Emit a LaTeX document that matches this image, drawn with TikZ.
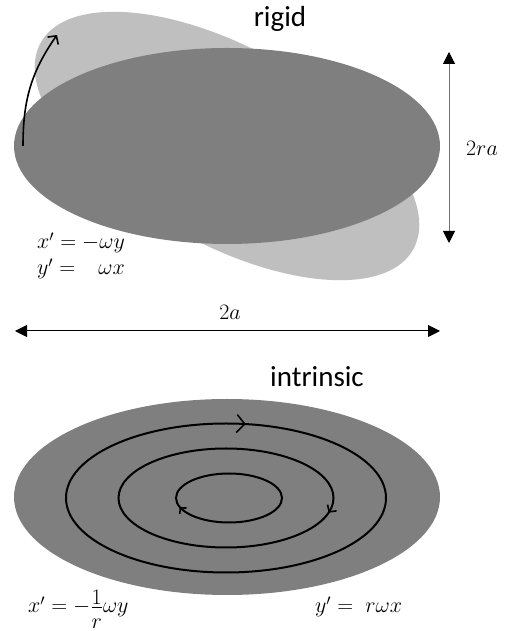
\RequirePackage{fix-cm}
\documentclass[tikz,border=0pt]{standalone}
\usepackage{amsmath}
\usepackage{fontspec}
\newfontfamily\labelfont{Carlito}
\usetikzlibrary{arrows.meta, decorations.markings}

\definecolor{diskdark}{RGB}{127,127,127}
\definecolor{disklight}{RGB}{191,191,191}

\tikzset{
  lbl/.style={font=\labelfont\fontsize{29}{33}\selectfont, inner sep=0pt},
  eq/.style={font=\fontsize{22}{26}\selectfont, inner sep=0pt},
  ring/.style={draw=black, line width=2pt},
  ringarrow/.style n args={3}{postaction={decorate, decoration={markings,
      mark=at position #1 with {\arrowreversed[line width=1.6pt]{Straight Barb[length=#2,width=#3]}}}}},
  dimarrow/.style={{Triangle[length=12pt,width=12pt,color=black]}-{Triangle[length=12pt,width=12pt,color=black]}},
}

\begin{document}
\begin{tikzpicture}[x=1pt, y=1pt]
  \useasboundingbox (0,0) rectangle (504,631);

  % Rigid rotation
  \fill[disklight, rotate around={-29:(227,485)}] (227,485) ellipse (213 and 98);
  \fill[diskdark] (227,485) ellipse (213 and 98);
  \coordinate (rotstart) at (23,485);
  \coordinate (rotend) at (57,596);
  \draw[line width=1.6pt, -{Straight Barb[length=6pt,width=13pt]}] (rotstart) to[out=90, in=235] (rotend);
  \node[lbl] (rigid) at (280,612) {rigid};

  % Axis lengths
  \coordinate (htop) at (449,579);
  \coordinate (hbot) at (449,388);
  \draw[dimarrow, draw=black!55, line width=1pt] (htop) -- (hbot);
  \node[eq] (height) at (482,483) {$2ra$};
  \coordinate (wleft) at (15,300);
  \coordinate (wright) at (440,300);
  \draw[dimarrow, line width=1pt] (wleft) -- (wright);
  \node[eq] (width) at (230,319) {$2a$};

  % Rigid equations
  \node[eq, anchor=base west] (rigidx) at (37,382) {$x' = -\omega y$};
  \node[eq, anchor=base west] (rigidy) at (37,356) {$y' = \phantom{-}\omega x$};

  % Intrinsic rotation
  \node[lbl] (intrinsic) at (317,254) {intrinsic};
  \fill[diskdark] (227,134) ellipse (213 and 98);
  \draw[ring, ringarrow={0.224}{8pt}{18pt}] (226,133) ellipse (160 and 74.5);
  \draw[ring, ringarrow={0.969}{5pt}{11pt}] (226,133) ellipse (107.5 and 49.5);
  \draw[ring, ringarrow={0.54}{4pt}{9pt}] (229,133) ellipse (53 and 24.5);

  % Intrinsic equations
  \node[eq, anchor=base west] (intrx) at (28,18) {$x' = -\dfrac{\raisebox{-6pt}{$1$}}{r}\omega y$};
  \node[eq, anchor=base west] (intry) at (315,18) {$y' = \; r\omega x$};
\end{tikzpicture}
\end{document}
